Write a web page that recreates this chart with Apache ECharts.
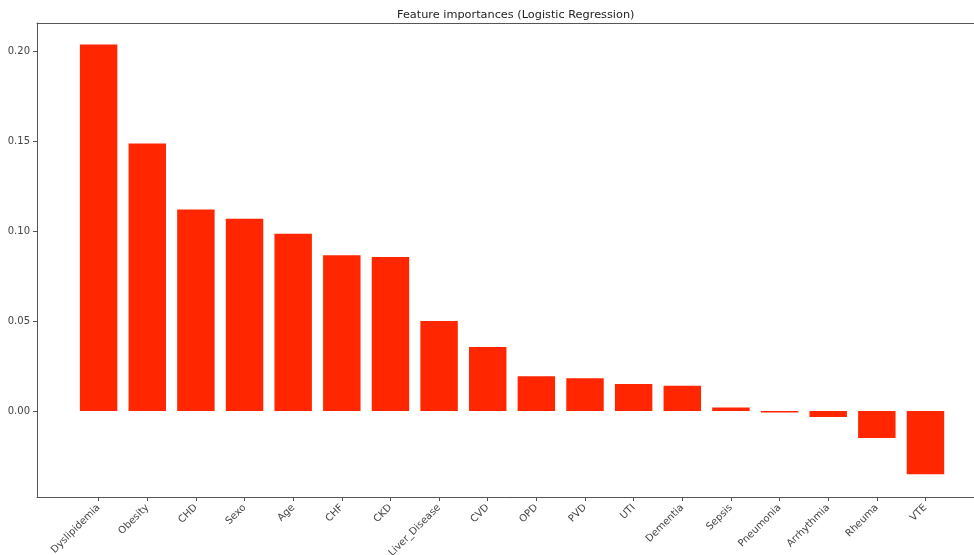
<!DOCTYPE html>
<html>
<head>
<meta charset="utf-8">
<script src="https://cdn.jsdelivr.net/npm/echarts@6/dist/echarts.min.js"></script>
<style>html,body{margin:0;padding:0;background:#fff}#c{width:974px;height:555px}</style>
</head>
<body>
<div id="c"></div>
<script>
const categories = ['Dyslipidemia','Obesity','CHD','Sexo','Age','CHF','CKD','Liver_Disease','CVD','OPD','PVD','UTI','Dementia','Sepsis','Pneumonia','Arrhythmia','Rheuma','VTE'];
const importances = [0.2037,0.1487,0.1120,0.1068,0.0985,0.0865,0.0855,0.0500,0.0356,0.0193,0.0182,0.0150,0.0140,0.0020,-0.0008,-0.0034,-0.0150,-0.0352];
const yTicks = [0, 0.05, 0.10, 0.15, 0.20];
const yMin = -0.0478, yMax = 0.2156;
const titleText = 'Feature importances (Logistic Regression)';

const font = 'DejaVu Sans';
const axisColor = '#555';
const gridLeft = 74.3;
const chart = echarts.init(document.getElementById('c'), null, {renderer: 'canvas'});
chart.setOption({
  animation: false,
  backgroundColor: '#fff',
  title: {
    text: titleText, left: 392, top: 5,
    textStyle: {fontFamily: font, fontSize: 11.3, fontWeight: 'normal', color: '#222'}
  },
  grid: [
    {left: 37, top: 23, width: 952, height: 474, containLabel: false, outerBoundsMode: 'none'},
    {left: gridLeft, top: 23, width: 875.5, height: 474, containLabel: false, outerBoundsMode: 'none'}
  ],
  xAxis: [
    {type: 'value', gridIndex: 0, position: 'bottom', min: 0, max: 1,
     axisLine: {show: true, onZero: false, lineStyle: {color: axisColor}},
     axisTick: {show: false}, axisLabel: {show: false}, splitLine: {show: false}},
    {type: 'value', gridIndex: 0, position: 'top', min: 0, max: 1,
     axisLine: {show: true, onZero: false, lineStyle: {color: axisColor}},
     axisTick: {show: false}, axisLabel: {show: false}, splitLine: {show: false}},
    {type: 'category', gridIndex: 1, position: 'bottom', data: categories,
     axisLine: {show: false, onZero: false},
     axisTick: {show: true, alignWithLabel: true, length: 4, lineStyle: {color: axisColor}},
     axisLabel: {rotate: 45, fontFamily: font, fontSize: 10, color: '#444', margin: 9, interval: 0},
     splitLine: {show: false}}
  ],
  yAxis: [
    {type: 'value', gridIndex: 0, min: 0, max: 1, show: false, splitLine: {show: false}},
    {type: 'value', gridIndex: 1, min: yMin, max: yMax, offset: gridLeft - 37,
     axisLine: {show: true, onZero: false, lineStyle: {color: axisColor}},
     axisTick: {show: true, length: 4, lineStyle: {color: axisColor}, customValues: yTicks},
     axisLabel: {fontFamily: font, fontSize: 10, color: '#444', margin: 7, customValues: yTicks,
                 formatter: v => v.toFixed(2)},
     splitLine: {show: false}}
  ],
  series: [{
    type: 'bar', xAxisIndex: 2, yAxisIndex: 1,
    data: importances, barWidth: '77%',
    itemStyle: {color: '#ff2600'}
  }]
});
</script>
</body>
</html>
